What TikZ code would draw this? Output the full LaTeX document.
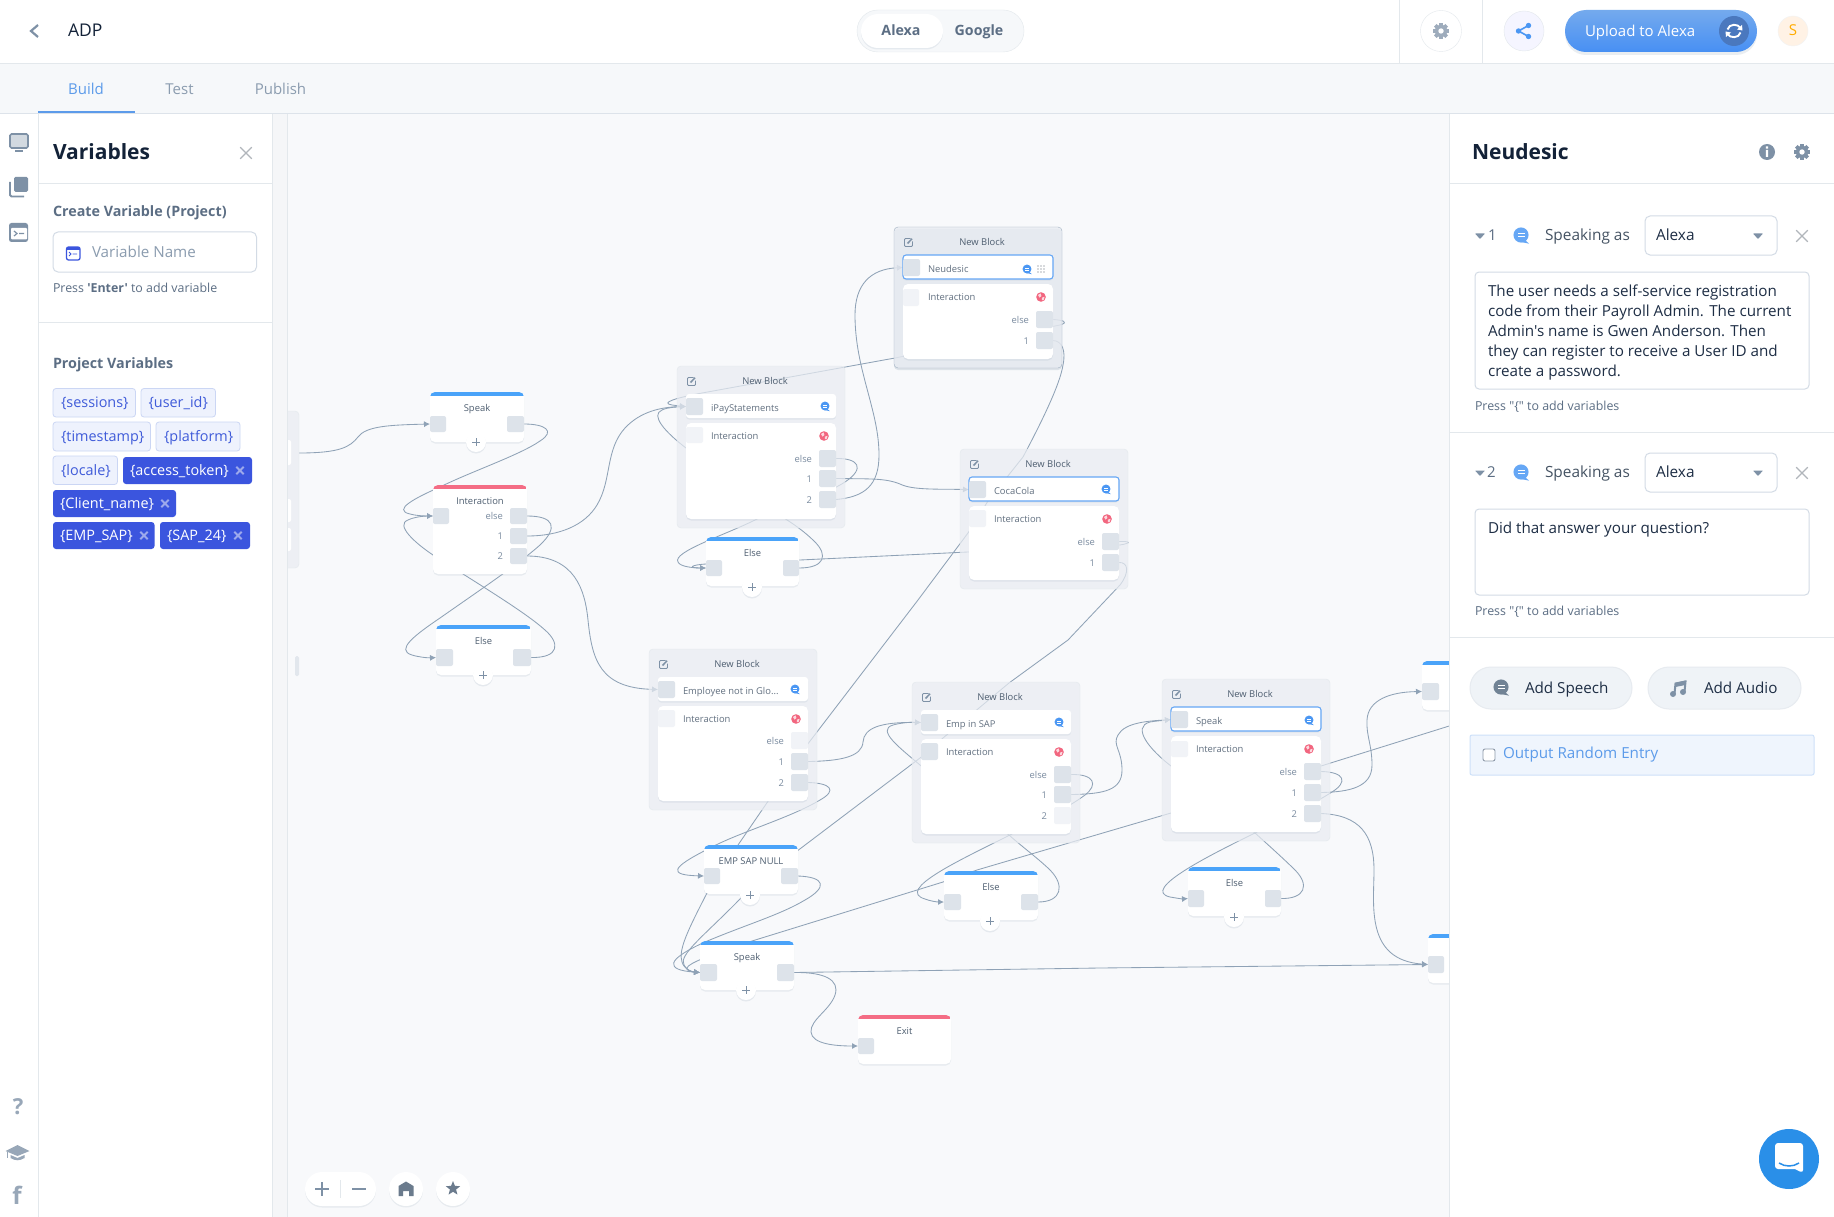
\documentclass[tikz,border=0pt]{standalone}
\usepackage{fontspec}
\defaultfontfeatures[\rmfamily]{}
\setmainfont{Open Sans}
\usetikzlibrary{arrows.meta,shadows,shapes.geometric}
\definecolor{linkc}{HTML}{8FA2B6}
\definecolor{canvasc}{HTML}{F8F9FB}
\definecolor{stripc}{HTML}{F5F6F8}
\definecolor{barc}{HTML}{F6F8FA}
\definecolor{linec}{HTML}{E3E8EC}
\definecolor{groupc}{HTML}{E9ECF2}
\definecolor{portc}{HTML}{DDE3EA}
\definecolor{portf}{HTML}{F1F3F7}
\definecolor{labc}{HTML}{7B8CA0}
\definecolor{titc}{HTML}{5C6E84}
\definecolor{bluebar}{HTML}{4AA3F9}
\definecolor{redbar}{HTML}{F46D85}
\definecolor{iconc}{HTML}{7E91A6}
\definecolor{tabblue}{HTML}{5C9BEA}
\definecolor{tabgrey}{HTML}{8B9CAF}
\definecolor{navy}{HTML}{132238}
\definecolor{inkc}{HTML}{1E2E45}
\definecolor{chipl}{HTML}{EEF2FD}
\definecolor{chipb}{HTML}{CBD6F4}
\definecolor{chipt}{HTML}{3F5BD9}
\definecolor{chipd}{HTML}{3B55DE}
\definecolor{chipx}{HTML}{9DA9EC}
\definecolor{bdr}{HTML}{D3DBE5}
\definecolor{speechc}{HTML}{4B97F3}
\definecolor{globec}{HTML}{F2667F}
\definecolor{btnc}{HTML}{EFF3F7}
\definecolor{chatc}{HTML}{2A8FE8}
\definecolor{syncc}{HTML}{4A78BE}
\pgfdeclarelayer{base}\pgfdeclarelayer{links}\pgfdeclarelayer{groups}\pgfdeclarelayer{front}
\pgfsetlayers{base,links,groups,main,front}
\newcommand\RR[6][]{\node[inner sep=0pt,outer sep=0pt,minimum width={(#5)-(#3)},minimum height={(#6)-(#4)},#1] (#2) at ({((#3)+(#5))/2},{((#4)+(#6))/2}) {};}
\newcommand\TX[5][]{\node[inner sep=0pt,outer sep=0pt,anchor=mid west,#1] (#2) at ({#3},{#4}) {#5};}
\newcommand\TC[5][]{\node[inner sep=0pt,outer sep=0pt,anchor=mid,#1] (#2) at ({#3},{#4}) {#5};}
\newcommand\TR[5][]{\node[inner sep=0pt,outer sep=0pt,anchor=mid east,#1] (#2) at ({#3},{#4}) {#5};}
\newcommand\Speech[4][speechc]{\begin{scope}[shift={({#2},{#3})},scale=#4]
 \fill[#1] (0,0) circle[radius=5.6]; \fill[#1] (2,3) -- (6,6.4) -- (-1,5) -- cycle;
 \fill[white] (-2.6,-1.5) rectangle (2.6,-.6); \fill[white] (-2.6,.8) rectangle (2.6,1.7);\end{scope}}
\newcommand\Globe[2]{\begin{scope}[shift={({#1},{#2})}]
 \fill[globec] (0,0) circle[radius=4.8];
 \fill[white,opacity=.75] (-3,-2) -- (-.4,-3.6) -- (.4,-1) -- (-1.5,.6) -- cycle;
 \fill[white,opacity=.75] (1,.6) -- (3.6,-.2) -- (2.6,3) -- (.8,3.2) -- cycle;\end{scope}}
\newcommand\EditI[2]{\begin{scope}[shift={({#1},{#2})}]
 \draw[iconc,line width=.9,rounded corners=1] (2,-4) -- (-4,-4) -- (-4,4) -- (4,4) -- (4,-1);
 \draw[iconc,line width=1.5] (-1,1) -- (3.6,-3.8);\end{scope}}
\newcommand\Cross[4][1.2]{\draw[#4,line width=#1] ({#2-5.8},{#3-5.8}) -- ({#2+5.8},{#3+5.8}) ({#2-5.8},{#3+5.8}) -- ({#2+5.8},{#3-5.8});}
\newcommand\ChipX[2]{\draw[chipx,line width=2.1] ({#1-3.7},{#2-3.7}) -- ({#1+3.7},{#2+3.7}) ({#1-3.7},{#2+3.7}) -- ({#1+3.7},{#2-3.7});}
\newcommand\Caret[2]{\fill[iconc,rounded corners=.6] ({#1-5},{#2-2.5}) -- ({#1+5},{#2-2.5}) -- ({#1},{#2+3}) -- cycle;}
\newcommand\GearI[3]{\begin{scope}[shift={({#1},{#2})}]
 \foreach \a in {0,45,90,135}{\fill[#3,rotate=\a] (-1.9,-8) rectangle (1.9,8);}
 \fill[#3] (0,0) circle[radius=6.2]; \fill[white] (0,0) circle[radius=2.7];\end{scope}}
\tikzset{
 fs/.style={font=\fontsize{#1}{20}\selectfont,yshift={-(0.32*#1-2.67)}},
 fsb/.style={font=\bfseries\fontsize{#1}{20}\selectfont,yshift={-(0.32*#1-2.67)}},
 link/.style={draw=linkc,line width=.85pt},
 arr/.style={link,-{Latex[length=6pt,width=6pt]}},
 groupbox/.style={draw=linec,fill=groupc,fill opacity=.72,rounded corners=4},
 selgroup/.style={draw=linkc!85,fill opacity=.8,drop shadow={shadow xshift=0pt,shadow yshift=-2pt,opacity=.25,fill=linkc}},
 cardbox/.style={fill=white,rounded corners=5,drop shadow={shadow xshift=0pt,shadow yshift=-1.5pt,opacity=.16,fill=linkc}},
 rowbox/.style={fill=white,rounded corners=3,drop shadow={shadow xshift=0pt,shadow yshift=-1.5pt,opacity=.14,fill=linkc}},
 selrow/.style={draw=speechc!85,line width=1.1pt},
 port/.style={fill=portc,rounded corners=2},
 portoff/.style={fill=portf,rounded corners=2},
 blocktitle/.style={fs=9.4,text=titc!85!black},
 cardlabel/.style={fs=9.4,text=labc},
 rowtext/.style={fs=9.4,text=labc!80!black},
 chiplight/.style={fill=chipl,draw=chipb,line width=.8pt,rounded corners=3},
 chipdark/.style={fill=chipd,rounded corners=3},
 chiptext/.style={fs=14.4,text=chipt},
 chiptextw/.style={fs=14.4,text=white},
 paneltitle/.style={fsb=21,text=navy},
 sectitle/.style={fsb=14.3,text=titc},
 hint/.style={fs=12.4,text=titc},
 tabtext/.style={fs=15},
 body/.style={fs=15.2,text=inkc},
 plusbtn/.style={circle,fill=white,minimum size=20pt,inner sep=0pt,drop shadow={shadow xshift=0pt,shadow yshift=-1.5pt,opacity=.18,fill=linkc}},
 softbtn/.style={circle,fill=white,inner sep=0pt,drop shadow={shadow xshift=0pt,shadow yshift=-1.5pt,opacity=.16,fill=linkc}},
}
\newcommand\Block[7]{%
 \begin{pgfonlayer}{groups}\RR[groupbox,#7]{#1-g}{#2}{#3}{#2+168}{#3+#4}\end{pgfonlayer}
 \TC[blocktitle]{#1-t}{#2+88}{#3+15.5}{New Block}
 \EditI{#2+14.5}{#3+15.5}
 \RR[rowbox,#6]{#1-r}{#2+9}{#3+28}{#2+159}{#3+52}
 \RR[port]{#1-in}{#2+9}{#3+32}{#2+26}{#3+49}
 \TX[rowtext]{#1-rt}{#2+34}{#3+42}{#5}
 \RR[cardbox]{#1-c}{#2+9}{#3+57}{#2+159}{#3+#4-9}
 \TX[rowtext]{#1-it}{#2+34}{#3+70}{Interaction}
 \Globe{#2+147}{#3+70}
}
\newcommand\OutP[6]{\RR[#6]{#1}{#2+142}{#3+#4}{#2+159}{#3+#4+17}
 \TR[cardlabel]{#1-l}{#2+135}{#3+#4+9}{#5}}
\newcommand\Card[7]{%
 \RR[cardbox]{#1}{#2}{#3}{#2+#4}{#3+#5}
 \begin{scope}\clip[rounded corners=5] (#2,#3) rectangle ({#2+#4},{#3+#5});
 \fill[#6] (#2,#3) rectangle ({#2+#4},{#3+4});\end{scope}
 \ifx\relax#7\relax\else\TC[blocktitle]{#1-t}{#2+#4/2}{#3+16}{#7}\fi}
\newcommand\PlusB[3]{\node[plusbtn] (#1) at (#2,#3) {};
 \draw[iconc,line width=.9] ({#2-4},#3) -- ({#2+4},#3) (#2,{#3-4}) -- (#2,{#3+4});}
\newcommand\Chip[6][light]{\RR[chip#1]{#2}{#3}{#4}{#5}{#6}}
\begin{document}
\begin{tikzpicture}[x=1pt,y=-1pt]
\useasboundingbox (0,0) rectangle (1834,1217);
\begin{pgfonlayer}{base}
\RR[fill=canvasc]{canvas}{287}{113}{1450}{1217}
\end{pgfonlayer}
\coordinate (leftexit) at (299,453);
\coordinate (rightexit) at (1462,722);
% ---------- flow blocks
\begin{pgfonlayer}{groups}
\RR[groupbox]{leftpart}{280}{411}{299}{568}
\end{pgfonlayer}
\RR[fill=white,rounded corners=2]{lp1}{282}{440}{291}{465}
\RR[fill=white,rounded corners=2]{lp2}{282}{499}{291}{522}
\RR[fill=white,rounded corners=2]{lp3}{282}{528}{291}{551}
\Card{speakA}{430}{392}{94}{50}{bluebar}{Speak}
\RR[port]{speakA-in}{430}{416}{446}{432}
\RR[port]{speakA-out}{507}{416}{524}{432}
\PlusB{speakA-p}{476}{442}
\Card{interA}{433}{485}{94}{89}{redbar}{Interaction}
\RR[port]{interA-in}{433}{508}{449}{524}
\RR[port]{interA-else}{510}{508}{527}{524}
\RR[port]{interA-one}{510}{528}{527}{544}
\RR[port]{interA-two}{510}{548}{527}{564}
\TR[cardlabel]{interA-el}{503}{516}{else}
\TR[cardlabel]{interA-ol}{503}{536}{1}
\TR[cardlabel]{interA-tl}{503}{556}{2}
\Card{elseA}{436}{625}{95}{50}{bluebar}{Else}
\RR[port]{elseA-in}{436}{649}{453}{666}
\RR[port]{elseA-out}{513}{649}{531}{666}
\PlusB{elseA-p}{483}{675}
% Neudesic
\Block{neu}{894}{227}{141}{Neudesic}{selrow}{selgroup}
\OutP{neu-else}{894}{227}{84}{else}{port}
\OutP{neu-one}{894}{227}{105}{1}{port}
\RR[portoff]{neu-ci}{903}{289}{919}{306}
\Speech{1027}{269}{.8}
\foreach \i in {-3,0,3}{\foreach \j in {-3,0,3}{\fill[portc!80!black] ({1041+\i},{269+\j}) circle[radius=.9];}}
% iPay
\Block{ipay}{677}{366}{162}{iPayStatements}{}{}
\OutP{ipay-else}{677}{366}{84}{else}{port}
\OutP{ipay-one}{677}{366}{104}{1}{port}
\OutP{ipay-two}{677}{366}{125}{2}{port}
\RR[portoff]{ipay-ci}{686}{427}{703}{443}
\Speech{825}{406}{.8}
\Card{elseB}{706}{537}{93}{49}{bluebar}{Else}
\RR[port]{elseB-in}{706}{560}{722}{576}
\RR[port]{elseB-out}{783}{560}{799}{576}
\PlusB{elseB-p}{752}{587}
% CocaCola
\Block{coca}{960}{449}{140}{CocaCola}{selrow}{}
\OutP{coca-else}{960}{449}{84}{else}{port}
\OutP{coca-one}{960}{449}{105}{1}{port}
\RR[portoff]{coca-ci}{969}{510}{986}{527}
\Speech{1106}{489}{.8}
% Employee
\Block{empn}{649}{649}{161}{Employee not in Glo...}{}{}
\OutP{empn-else}{649}{649}{83}{else}{portoff}
\OutP{empn-one}{649}{649}{104}{1}{port}
\OutP{empn-two}{649}{649}{125}{2}{port}
\RR[portoff]{empn-ci}{658}{710}{675}{727}
\Speech{795}{689}{.8}
% Emp in SAP
\Block{emp}{912}{682}{161}{Emp in SAP}{}{}
\OutP{emp-else}{912}{682}{84}{else}{port}
\OutP{emp-one}{912}{682}{104}{1}{port}
\OutP{emp-two}{912}{682}{125}{2}{portoff}
\RR[port]{emp-ci}{921}{743}{938}{760}
\Speech{1059}{722}{.8}
% Speak block
\Block{spb}{1162}{679}{162}{Speak}{selrow}{}
\OutP{spb-else}{1162}{679}{84}{else}{port}
\OutP{spb-one}{1162}{679}{105}{1}{port}
\OutP{spb-two}{1162}{679}{126}{2}{port}
\RR[portoff]{spb-ci}{1171}{741}{1188}{757}
\Speech{1309}{720}{.8}
% Simple cards
\Card{nullc}{704}{845}{94}{49}{bluebar}{EMP SAP NULL}
\RR[port]{nullc-in}{704}{868}{720}{884}
\RR[port]{nullc-out}{781}{868}{798}{884}
\PlusB{nullc-p}{750}{895}
\Card{speakB}{700}{941}{94}{49}{bluebar}{Speak}
\RR[port]{speakB-in}{700}{964}{717}{981}
\RR[port]{speakB-out}{777}{964}{794}{981}
\PlusB{speakB-p}{746}{990}
\Card{exitc}{858}{1015}{93}{49}{redbar}{Exit}
\RR[port]{exitc-in}{858}{1038}{874}{1054}
\Card{elseC}{944}{871}{94}{49}{bluebar}{Else}
\RR[port]{elseC-in}{944}{894}{961}{910}
\RR[port]{elseC-out}{1021}{894}{1038}{910}
\PlusB{elseC-p}{990}{921}
\Card{elseD}{1188}{867}{93}{49}{bluebar}{Else}
\RR[port]{elseD-in}{1188}{890}{1204}{907}
\RR[port]{elseD-out}{1265}{890}{1281}{907}
\PlusB{elseD-p}{1234}{917}
\Card{cutA}{1422}{661}{94}{49}{bluebar}{}
\RR[port]{cutA-in}{1422}{683}{1439}{700}
\Card{cutB}{1428}{934}{94}{49}{bluebar}{}
\RR[port]{cutB-in}{1428}{956}{1444}{973}
\RR[fill=portc!85!white,rounded corners=1.5]{handle}{295}{656}{299}{676}
% ---------- zoom controls
\RR[softbtn,rectangle,rounded corners=17]{zoompill}{305}{1172}{376}{1206}
\draw[iconc,line width=1.3] (315,1189) -- (329,1189) (322,1182) -- (322,1196) (352,1189) -- (366,1189);
\draw[linec,line width=1] (340,1180) -- (340,1198);
\node[softbtn,minimum size=34pt] (homeb) at (406,1189) {};
\fill[iconc!85!black] (406,1181.5) -- (413.5,1186) -- (413.5,1196) -- (409,1196) -- (409,1191) -- (403,1191) -- (403,1196) -- (398.5,1196) -- (398.5,1186) -- cycle;
\node[softbtn,minimum size=34pt] (starb) at (453,1189) {};
\node[star,star points=5,star point ratio=2.3,fill=iconc!85!black,minimum size=15pt,inner sep=0pt] (stari) at (453,1188.5) {};
% ---------- panels above the flow
\begin{pgfonlayer}{front}
\RR[fill=white]{topbar}{0}{0}{1834}{63}
\RR[fill=barc]{tabbar}{0}{64}{1834}{113}
\draw[linec,line width=1] (0,63.5) -- (1834,63.5);
\draw[portc,line width=1.5] (0,113.5) -- (1834,113.5);
\draw[linec,line width=1] (1399,0) -- (1399,63) (1482,0) -- (1482,63);
\RR[fill=white]{rail}{0}{114}{38}{1217}
\RR[fill=white]{leftpanel}{38}{114}{272}{1217}
\RR[fill=stripc]{strip}{272}{114}{287}{1217}
\draw[linec,line width=1] (38,114) -- (38,1217) (272.5,114) -- (272.5,1217) (287,114) -- (287,1217);
\RR[fill=white]{rightpanel}{1449.5}{114}{1834}{1217}
\draw[linec,line width=1] (1449.5,114) -- (1449.5,1217);
% top bar
\draw[iconc,line width=2.2] (38,25) -- (31,31) -- (38,37);
\TX[fs=17.5,text=navy]{adp}{68}{31}{ADP}
\RR[fill=barc,draw=linec,rounded corners=21]{togglep}{857}{10}{1024}{52}
\RR[softbtn,rectangle,rounded corners=17]{togglew}{861}{14}{943}{48}
\TC[fsb=14.2,text=titc]{talexa}{901}{31}{Alexa}
\TC[fsb=14.2,text=titc]{tgoogle}{979}{31}{Google}
\node[circle,draw=linec,fill=white,minimum size=41pt,inner sep=0pt] (gearb) at (1441,31) {};
\GearI{1441}{31}{iconc!75!white}
\node[circle,draw=linec,fill=blue!4!white,minimum size=40pt,inner sep=0pt] (shareb) at (1524,31) {};
\begin{scope}[shift={(1523.5,31)}]
\draw[speechc,line width=1.6] (5,-5.5) -- (-5,0) -- (5,5.5);
\fill[speechc] (5,-5.5) circle[radius=2.7] (-5,0) circle[radius=2.7] (5,5.5) circle[radius=2.7];
\end{scope}
\node[rectangle,rounded corners=21,minimum width=192pt,minimum height=42pt,inner sep=0pt,top color=tabblue!85!white,bottom color=speechc!95!blue,drop shadow={shadow xshift=0pt,shadow yshift=-3pt,opacity=.18,fill=linkc}] (upload) at (1661,31) {};
\TX[fs=15,text=white]{uploadt}{1585}{31.5}{Upload to Alexa}
\node[circle,fill=syncc,minimum size=30pt,inner sep=0pt] (syncb) at (1734,31) {};
\draw[white,line width=1.9] (1727.5,29.5) .. controls (1729,23.5) and (1738,23.5) .. (1740.5,28);
\draw[white,line width=1.9] (1740.5,32.5) .. controls (1739,38.5) and (1730,38.5) .. (1727.5,34);
\fill[white] (1742,25) -- (1742.5,30.5) -- (1737,29.5) -- cycle (1726,37) -- (1725.5,31.5) -- (1731,32.5) -- cycle;
\node[circle,fill=orange!10!white,minimum size=30pt,inner sep=0pt,draw=linec!50!white] (avatar) at (1793,31) {};
\TC[fs=15,text=orange!65!yellow]{avatart}{1793}{31}{S}
% tabs
\TC[tabtext,text=tabblue]{tabbuild}{86}{89.5}{Build}
\TC[tabtext,text=tabgrey]{tabtest}{179.5}{89.5}{Test}
\TC[tabtext,text=tabgrey]{tabpub}{280.5}{89.5}{Publish}
\fill[tabblue] (38,111.5) rectangle (135,113.5);
% rail icons
\RR[draw=iconc,fill=iconc!35!white,line width=1.6,rounded corners=1.5]{monitor}{10}{134}{28}{148}
\fill[iconc] (15,150.5) rectangle (23,152);
\RR[fill=iconc,rounded corners=1.5]{layers}{14}{177}{28}{192}
\draw[iconc,line width=1.8,rounded corners=1.5] (10,182) -- (10,196.5) -- (24,196.5);
\RR[fill=iconc,rounded corners=2.5]{termi}{9}{223}{28}{242}
\RR[fill=white,rounded corners=1]{termb}{11}{228}{27}{239.5}
\draw[iconc,line width=1.2] (14,231) -- (17,233.5) -- (14,236) (19,233.5) -- (24,233.5);
\TC[fsb=22,text=iconc!80!white]{helpq}{18}{1107}{?}
\fill[iconc!80!white] (5.5,1151) -- (17.5,1145) -- (29.5,1151) -- (17.5,1156) -- cycle;
\fill[iconc!80!white] (10.5,1155) -- (17.5,1158) -- (24.5,1155) -- (24.5,1158) .. controls (20,1161) and (15,1161) .. (10.5,1158) -- cycle;
\draw[iconc!80!white,line width=1] (7.5,1152) -- (7.5,1158);
\TC[fsb=24,text=iconc!80!white]{fbf}{17}{1197}{f}
% left panel
\TX[paneltitle]{vartitle}{53}{153}{Variables}
\Cross{246}{153}{portc!80!black}
\draw[linec,line width=1] (38,183.5) -- (272,183.5) (38,322.5) -- (272,322.5);
\TX[sectitle]{createt}{53}{212}{Create Variable (Project)}
\RR[draw=bdr,line width=1,rounded corners=5,fill=white]{varinput}{53}{232}{256.5}{272}
\RR[draw=chipd,fill=white,line width=1.3,rounded corners=2]{vicon}{66.5}{247}{80}{260}
\fill[chipd] (66.5,247) rectangle (80,250);
\draw[chipd,line width=.9] (69,252) -- (71,254) -- (69,256) (72.5,254) -- (77,254);
\TX[fs=15.2,text=tabgrey]{varinputt}{92}{253}{Variable Name}
\TX[hint]{presse}{53}{288.5}{Press \textbf{'Enter'} to add variable}
\TX[sectitle]{projt}{53}{364}{Project Variables}
\Chip{c1}{53}{388.5}{135.5}{417}\TX[chiptext]{c1t}{61}{403}{\{sessions\}}
\Chip{c2}{141}{388.5}{215.5}{417}\TX[chiptext]{c2t}{148.5}{403}{\{user\_id\}}
\Chip{c3}{53}{422}{150.5}{451}\TX[chiptext]{c3t}{61}{437}{\{timestamp\}}
\Chip{c4}{156}{422}{240}{451}\TX[chiptext]{c4t}{164}{437}{\{platform\}}
\Chip{c5}{53}{456}{117.5}{484.5}\TX[chiptext]{c5t}{61}{471}{\{locale\}}
\Chip[dark]{c6}{123}{457}{252}{484}\TX[chiptextw]{c6t}{130}{471}{\{access\_token\}}\ChipX{240}{470.5}
\Chip[dark]{c7}{53}{490}{176}{517}\TX[chiptextw]{c7t}{60}{504}{\{Client\_name\}}\ChipX{165}{503.5}
\Chip[dark]{c8}{53}{522}{154.5}{549}\TX[chiptextw]{c8t}{60}{536}{\{EMP\_SAP\}}\ChipX{144}{535.5}
\Chip[dark]{c9}{160}{522}{250}{549}\TX[chiptextw]{c9t}{167}{536}{\{SAP\_24\}}\ChipX{238}{535.5}
% right panel
\TX[paneltitle]{neutitle}{1472}{153}{Neudesic}
\fill[iconc] (1767,152) circle[radius=8];
\fill[white] (1765.8,150) rectangle (1768.2,157) (1765.8,146.5) rectangle (1768.2,148.7);
\GearI{1802}{152}{iconc}
\draw[linec,line width=1] (1450,184) -- (1834,184) (1450,432.5) -- (1834,432.5) (1450,637.5) -- (1834,637.5);
\Caret{1480}{236}
\TX[fs=15,text=titc]{n1}{1488}{236}{1}
\Speech[speechc!85!white]{1521}{235}{1.35}
\TX[fs=15.4,text=titc!75!black]{sp1}{1545}{236}{Speaking as}
\RR[draw=bdr,line width=1,rounded corners=5,fill=white]{dd1}{1645}{216}{1777}{255}
\TX[fs=15.4,text=inkc]{dd1t}{1656}{236}{Alexa}
\Caret{1758}{236}
\Cross{1802}{236}{portc!80!black}
\RR[draw=bdr,line width=1,rounded corners=4,fill=white]{ta1}{1475}{272}{1809}{389}
\TX[body]{l1}{1488}{292}{The user needs a self-service registration}
\TX[body]{l2}{1488}{312}{code from their Payroll Admin. The current}
\TX[body]{l3}{1488}{332}{Admin's name is Gwen Anderson. Then}
\TX[body]{l4}{1488}{352}{they can register to receive a User ID and}
\TX[body]{l5}{1488}{372}{create a password.}
\TX[hint]{h1}{1475}{407}{Press "\{" to add variables}
\Caret{1480}{473}
\TX[fs=15,text=titc]{n2}{1487}{473}{2}
\Speech[speechc!85!white]{1521}{472}{1.35}
\TX[fs=15.4,text=titc!75!black]{sp2}{1545}{473}{Speaking as}
\RR[draw=bdr,line width=1,rounded corners=5,fill=white]{dd2}{1645}{453}{1777}{492}
\TX[fs=15.4,text=inkc]{dd2t}{1656}{473}{Alexa}
\Caret{1758}{473}
\Cross{1802}{473}{portc!80!black}
\RR[draw=bdr,line width=1,rounded corners=4,fill=white]{ta2}{1475}{509}{1809}{595}
\TX[body]{l6}{1488}{529}{Did that answer your question?}
\TX[hint]{h2}{1475}{612}{Press "\{" to add variables}
\RR[fill=btnc,draw=portc!70!white,line width=1,rounded corners=21]{addsp}{1470}{667}{1632}{709}
\Speech[iconc!90!black]{1501}{687}{1.35}
\TX[fs=15.2,text=inkc]{addspt}{1525}{688.5}{Add Speech}
\RR[fill=btnc,draw=portc!70!white,line width=1,rounded corners=21]{addau}{1648}{667}{1801}{709}
\begin{scope}[shift={(1679,688)}]
\draw[iconc,line width=2] (-4.5,5.5) -- (-3.5,-4.5) -- (6.5,-6.5) -- (5.5,3.5);
\fill[iconc] (-6,6) circle[radius=3] (4,4) circle[radius=3] (-3.5,-5) -- (6.5,-7.5) -- (6.3,-3) -- (-3.8,-1) -- cycle;
\end{scope}
\TX[fs=15.2,text=inkc]{addaut}{1704}{688.5}{Add Audio}
\RR[fill=tabblue!10!white,draw=tabblue!30!white,line width=1,rounded corners=2]{randbox}{1470}{735}{1814}{775}
\RR[fill=white,draw=titc!70!white,line width=.9,rounded corners=2]{randchk}{1483}{749}{1495}{761}
\TX[fs=15.2,text=tabblue]{randt}{1503}{754}{Output Random Entry}
\node[circle,fill=chatc,minimum size=60pt,inner sep=0pt] (chatb) at (1789,1159) {};
\fill[white,rounded corners=3] (1775,1143) -- (1803,1143) -- (1803,1173) [sharp corners] -- (1795,1169) [rounded corners=3] -- (1775,1169) -- cycle;
\draw[chatc,line width=1.5] (1779,1163) .. controls (1785,1167) and (1793,1167) .. (1799,1163);
\end{pgfonlayer}
% ---------- connectors
\begin{pgfonlayer}{links}
\draw[arr] (leftexit) .. controls (340,453) and (350,447) .. (358,437) .. controls (366,426) and (390,425) .. (speakA-in.west);
\draw[arr] (speakA-out.east) .. controls (545,424) and (556,431) .. (540,441) .. controls (520,455) and (470,472) .. (440,487) .. controls (415,498) and (392,510) .. (410,514) .. controls (415,515.5) and (423,516) .. (interA-in.west);
\draw[arr] (elseA-out.east) .. controls (560,658) and (560,643) .. (545,630) .. controls (525,612) and (480,585) .. (433,555) .. controls (415,543) and (395,525) .. (408,520) .. controls (414,517) and (424,516) .. (interA-in.west);
\draw[arr] (interA-else.east) .. controls (555,516) and (558,528) .. (540,545) .. controls (520,563) and (480,590) .. (440,618) .. controls (415,635) and (395,650) .. (412,655) .. controls (418,657) and (428,658) .. (elseA-in.west);
\draw[arr] (interA-one.east) .. controls (560,536) and (585,525) .. (597,505) .. controls (612,480) and (605,450) .. (625,428) .. controls (640,412) and (660,407) .. (ipay-in.west);
\draw[arr] (interA-two.east) .. controls (575,556) and (585,590) .. (588,620) .. controls (592,660) and (600,688) .. (empn-in.west);
\draw[arr] (ipay-else.east) .. controls (858,458) and (866,468) .. (845,482) .. controls (820,498) and (775,510) .. (755,520) .. controls (725,535) and (672,552) .. (678,562) .. controls (680,567) and (695,568) .. (elseB-in.west);
\draw[arr] (elseB-out.east) .. controls (825,568) and (828,555) .. (815,542) .. controls (805,532) and (795,525) .. (784,518) -- (686,448) .. controls (665,432) and (650,415) .. (662,410) .. controls (668,407) and (678,407) .. (ipay-in.west);
\draw[arr] (ipay-one.east) .. controls (870,479) and (885,478) .. (900,484) .. controls (912,490) and (935,489) .. (coca-in.west);
\draw[arr] (ipay-two.east) .. controls (865,497) and (879,485) .. (879,455) .. controls (879,410) and (855,370) .. (855,315) .. controls (855,285) and (870,269) .. (neu-in.west);
\draw[arr] (neu-else.east) .. controls (1062,320) and (1070,322) .. (1060,325) -- (895,358) -- (702,393) .. controls (675,398) and (660,403) .. (672,405) .. controls (676,405.5) and (680,406) .. (ipay-in.west);
\draw[arr] (neu-one.east) .. controls (1062,341) and (1066,350) .. (1063,365) .. controls (1060,385) and (1040,425) .. (1023,457) -- (988,501) -- (968,533) -- (918,600) -- (807,745) -- (767.5,802) -- (738,845) -- (707,893) .. controls (688,930) and (678,950) .. (682,962) .. controls (684,969) and (692,972) .. (speakB-in.west);
\draw[arr] (coca-one.east) .. controls (1128,562) and (1130,572) .. (1120,585) -- (1068,640) -- (1009,683) -- (943,738) -- (920,758) -- (798.5,850) -- (741,898) .. controls (705,935) and (678,955) .. (684,965) .. controls (686,970) and (692,972) .. (speakB-in.west);
\draw[arr] (coca-else.east) .. controls (1130,541) and (1132,543) .. (1120,545) -- (968,552) -- (800,560) -- (706,564) .. controls (690,565) and (688,568) .. (elseB-in.west);
\draw[arr] (empn-one.east) .. controls (840,761) and (862,757) .. (863,742) .. controls (864,728) and (880,722) .. (emp-in.west);
\draw[arr] (empn-two.east) .. controls (830,783) and (838,790) .. (820,800) .. controls (790,818) and (740,832) .. (710,848) .. controls (670,868) and (668,875) .. (nullc-in.west);
\draw[arr] (nullc-out.east) .. controls (825,877) and (828,887) .. (805,900) .. controls (780,915) and (745,925) .. (705,942) .. controls (665,960) and (665,970) .. (speakB-in.west);
\draw[arr] (emp-else.east) .. controls (1095,774) and (1098,785) .. (1085,795) .. controls (1065,810) and (1040,820) .. (1010,835) .. controls (960,860) and (895,890) .. (925,899) .. controls (930,901) and (937,902) .. (elseC-in.west);
\draw[arr] (elseC-out.east) .. controls (1062,902) and (1065,885) .. (1050,870) .. controls (1040,860) and (1020,845) .. (1009,835) -- (920,765) .. controls (900,748) and (876,730) .. (893,725) .. controls (900,723) and (910,722) .. (emp-in.west);
\draw[arr] (emp-one.east) .. controls (1105,794) and (1122,790) .. (1122,770) .. controls (1122,750) and (1112,745) .. (1118,735) .. controls (1125,722) and (1150,721) .. (spb-in.west);
\draw[arr] (speakB-out.east) .. controls (825,972) and (840,980) .. (835,995) .. controls (830,1010) and (810,1020) .. (811,1032) .. controls (812,1044) and (835,1046) .. (exitc-in.west);
\draw[arr] (speakB-out.east) -- (1100,968) -- (cutB-in.west);
\draw[arr] (spb-two.east) .. controls (1360,815) and (1374,835) .. (1374,870) .. controls (1374,905) and (1365,960) .. (cutB-in.west);
\draw[arr] (spb-one.east) .. controls (1350,792) and (1372,787) .. (1372,765) .. controls (1372,745) and (1366,735) .. (1367,720) .. controls (1368,700) and (1390,692) .. (cutA-in.west);
\draw[arr] (spb-else.east) .. controls (1345,772) and (1348,782) .. (1332,792) .. controls (1310,806) and (1280,820) .. (1255,833) .. controls (1210,855) and (1140,890) .. (1170,897) .. controls (1176,898) and (1182,899) .. (elseD-in.west);
\draw[arr] (elseD-out.east) .. controls (1305,899) and (1310,885) .. (1295,870) .. controls (1285,860) and (1265,842) .. (1255,833) -- (1171,766) .. controls (1150,750) and (1131,727) .. (1150,722) .. controls (1155,721) and (1163,720.5) .. (spb-in.west);
\draw[arr] (rightexit) -- (1321,766) -- (1171,813) -- (1079,840) -- (977,870) -- (943,882) -- (752,941) -- (712,955) .. controls (690,963) and (678,970) .. (speakB-in.west);
\end{pgfonlayer}
\end{tikzpicture}
\end{document}
